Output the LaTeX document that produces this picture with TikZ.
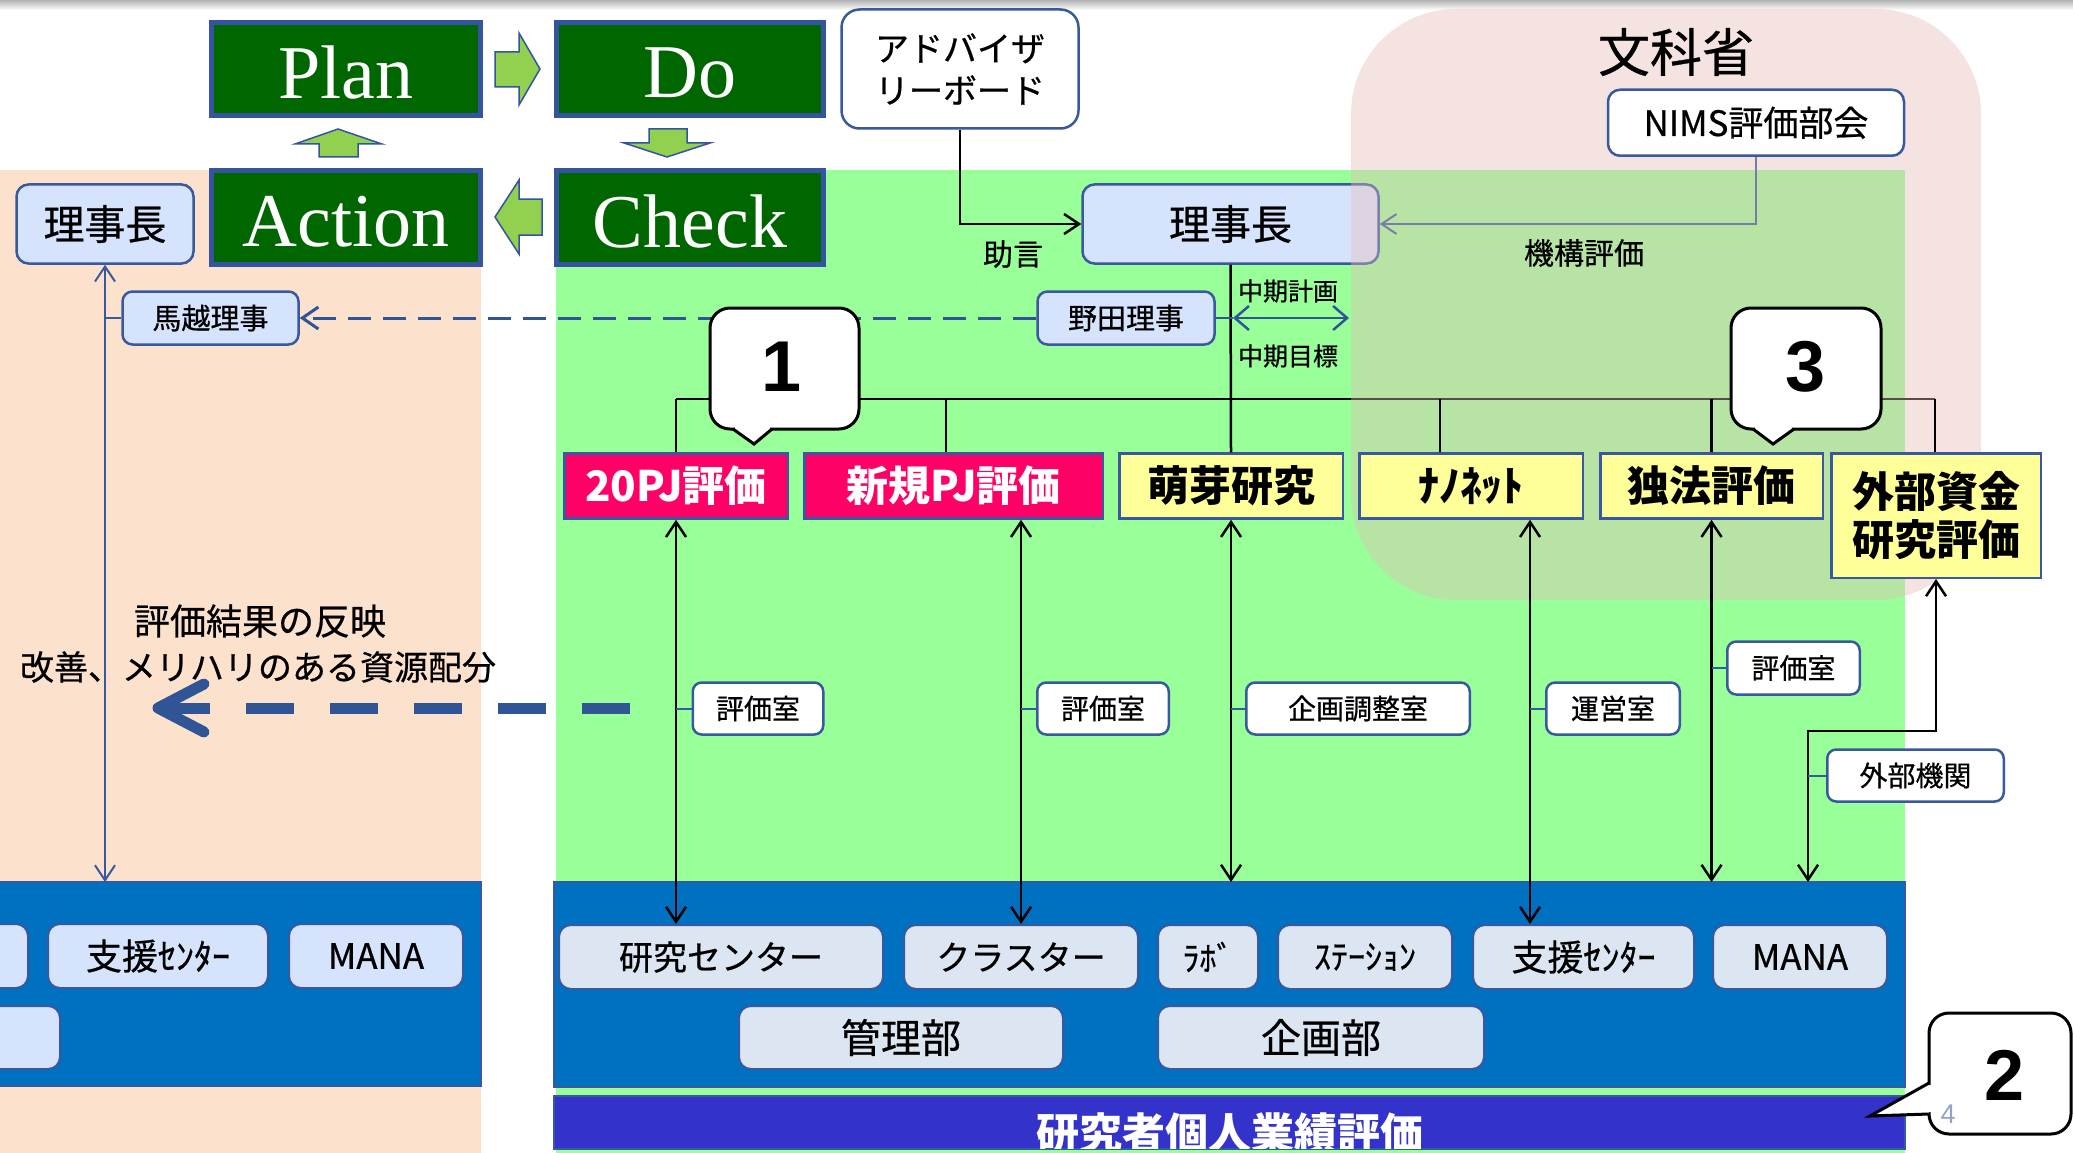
\documentclass[tikz,border=0pt]{standalone}
\usepackage{fontspec}
\setmainfont{Liberation Sans}
\newfontfamily\jp[FakeBold=0.6]{Noto Sans CJK JP}
\newfontfamily\jpb{Noto Sans CJK JP}
\newfontfamily\enserif{Liberation Serif}
\newfontfamily\ensans{Liberation Sans}
\usetikzlibrary{arrows.meta}
\newcommand\fsz[2]{\fontsize{#1pt}{#2pt}\selectfont}
\definecolor{pdcagreen}{RGB}{0,102,0}
\definecolor{pdcaedge}{RGB}{52,84,160}
\definecolor{arrowgreen}{RGB}{146,208,80}
\definecolor{peach}{RGB}{252,225,204}
\definecolor{bggreen}{RGB}{153,255,153}
\definecolor{mext}{RGB}{230,185,184}
\definecolor{edgeblue}{RGB}{56,88,160}
\definecolor{lightblue}{RGB}{214,227,252}
\definecolor{bandbox}{RGB}{220,230,242}
\definecolor{bandblue}{RGB}{0,112,192}
\definecolor{purpleband}{RGB}{51,51,204}
\definecolor{magentabox}{RGB}{255,0,102}
\definecolor{yellowbox}{RGB}{255,255,153}
\definecolor{dashblue}{RGB}{47,85,151}
\definecolor{pagenum}{RGB}{150,160,200}
\tikzset{
  vb/.tip={Straight Barb[length=15pt,width=20pt]},
  pdca/.style={draw=pdcaedge, line width=5pt, fill=pdcagreen, text=white, inner sep=0pt,
    minimum width=269pt, minimum height=93pt, font=\enserif\fsz{76}{80}},
  pdcatext/.style={inner sep=0pt, text=white, font=\enserif\fsz{76}{80}},
  garrow/.style={fill=arrowgreen, draw=pdcaedge, line width=1.5pt, line join=miter},
  rbox/.style={draw=edgeblue, line width=2.5pt, fill=lightblue, rounded corners=12pt, inner sep=0pt,
    font=\jp\fsz{41}{48}},
  wbox/.style={draw=edgeblue, line width=2.5pt, fill=white, rounded corners=12pt, inner sep=0pt, align=center},
  lab/.style={draw=edgeblue, line width=2.5pt, fill=white, rounded corners=9pt, inner sep=0pt,
    minimum height=52pt, font=\jp\fsz{28}{32}},
  evbox/.style={draw=edgeblue, line width=2.5pt, inner sep=0pt, minimum height=65pt,
    font=\jpb\bfseries\fsz{42}{48}, align=center},
  ybox/.style={evbox, fill=yellowbox},
  mbox/.style={evbox, fill=magentabox, text=white},
  bbox/.style={draw=edgeblue, line width=2pt, fill=bandbox, rounded corners=12pt, inner sep=0pt,
    minimum height=64pt, font=\jp\fsz{34}{40}},
  lbbox/.style={bbox, fill=lightblue},
  conn/.style={line width=2.5pt, draw=black},
  bconn/.style={line width=2pt, draw=edgeblue},
  callbox/.style={draw=black, line width=3pt, fill=white, rounded corners=20pt},
  lbl/.style={inner sep=0pt, font=\jp\fsz{30}{34}},
  bignum/.style={inner sep=0pt, font=\ensans\bfseries\fsz{72}{72}},
}
\begin{document}
\begin{tikzpicture}[x=1pt,y=-1pt]
\useasboundingbox (0,0) rectangle (2073,1153);
\fill[white] (0,0) rectangle (2073,1153);
\shade[top color=black!30, bottom color=white] (0,0) rectangle (2073,10);

% backgrounds
\fill[peach] (0,170) rectangle (481,1153);
\fill[bggreen] (556,170) rectangle (1905,1153);

% bands
\coordinate (bandtop) at (0,882);
\draw[fill=bandblue, draw=edgeblue, line width=1.5pt] (-5,882) rectangle (481,1086);
\draw[fill=bandblue, draw=edgeblue, line width=1.5pt] (554,882) rectangle (1905,1087);
\draw[fill=purpleband, draw=edgeblue, line width=1.5pt] (554,1096) rectangle (1905,1149);
\begin{scope}
\clip (555,1097) rectangle (1904,1148);
\node[inner sep=0pt, text=white, font=\jpb\bfseries\fsz{43}{50}] (kojin) at (1230,1133) {研究者個人業績評価};
\end{scope}

% band boxes left
\node[lbbox, minimum width=200pt] (partL) at (-72,956) {};
\node[lbbox, minimum width=220pt, font=\jp\fsz{36}{40}] (shienL) at (158,956) {支援ｾﾝﾀｰ};
\node[lbbox, minimum width=174pt, font=\jp\fsz{35}{40}] (manaL) at (376,956) {MANA};
\node[lbbox, minimum width=220pt, minimum height=63pt] (partL2) at (-50,1037.5) {};

% band boxes right
\node[bbox, minimum width=324pt] (ken) at (721,957) {研究センター};
\node[bbox, minimum width=234pt] (clu) at (1021,957) {クラスター};
\node[bbox, minimum width=100pt] (labo) at (1208,957) {ﾗﾎﾞ};
\node[bbox, minimum width=174pt] (sta) at (1365,957) {ｽﾃｰｼｮﾝ};
\node[bbox, minimum width=221pt, font=\jp\fsz{36}{40}] (shienR) at (1583.5,957) {支援ｾﾝﾀｰ};
\node[bbox, minimum width=174pt, font=\jp\fsz{35}{40}] (manaR) at (1800,957) {MANA};
\node[bbox, minimum width=324pt, minimum height=63pt, font=\jp\fsz{40}{44}] (kanri) at (901,1037.5) {管理部};
\node[bbox, minimum width=326pt, minimum height=63pt, font=\jp\fsz{40}{44}] (kikaku) at (1321,1037.5) {企画部};

% PDCA
\node[pdca] (plan) at (346,69) {};
\node[pdca, minimum width=267pt] (do) at (690,69) {};
\node[pdca] (action) at (346,217.5) {};
\node[pdca, minimum width=267pt] (check) at (690,217.5) {};
\node[pdcatext] at ([yshift=-4pt]plan.center) {Plan};
\node[pdcatext] at ([yshift=-4pt]do.center) {Do};
\node[pdcatext] at ([yshift=-4pt]action.center) {Action};
\node[pdcatext] at ([yshift=-4pt]check.center) {Check};
\draw[garrow] (495,52) -- (519,52) -- (519,33) -- (540,69) -- (519,105) -- (519,87) -- (495,87) -- cycle;
\draw[garrow] (649,129) -- (687,129) -- (687,143) -- (710,143) -- (667,157) -- (624,143) -- (649,143) -- cycle;
\draw[garrow] (542,199) -- (519,199) -- (519,180) -- (495,217) -- (519,254) -- (519,235) -- (542,235) -- cycle;
\draw[garrow] (319,157) -- (319,144) -- (295,144) -- (338,129) -- (382,144) -- (358,144) -- (358,157) -- cycle;

% advisory board and chairmen
\node[wbox, minimum width=237pt, minimum height=119pt, rounded corners=18pt, font=\jp\fsz{34}{42}] (adv) at (960,69) {アドバイザ\\リーボード};
\node[rbox, minimum width=296pt, minimum height=79pt] (rj) at (1230.5,224) {理事長};
\node[rbox, minimum width=177pt, minimum height=79pt] (rjL) at (105,224) {理事長};
\coordinate (nimsS) at (1756,157);
\draw[conn, -vb] (adv.south) |- (rj.west);
\draw[bconn, color=dashblue, -vb] (nimsS) |- (rj.east);

% tree bus
\coordinate (busL) at (676,399);
\coordinate (busR) at (1935,399);
\draw[conn] (busL) -- (busR);

% MEXT region
\fill[mext, opacity=0.4, rounded corners=105pt] (1351,9) rectangle (1981,600);
\node[inner sep=0pt, font=\jp\fsz{52}{56}] (mext) at (1676,52) {文科省};
\node[wbox, minimum width=296pt, minimum height=66pt, font=\jp\fsz{35}{40}, anchor=south] (nims) at (nimsS) {NIMS評価部会};
\node[lbl] (kikou) at (1584,253) {機構評価};
\node[lbl] (jogen) at (1013,254) {助言};
\node[lbl, font=\jp\fsz{25}{28}] (keikaku) at (1288,291) {中期計画};
\node[lbl, font=\jp\fsz{25}{28}] (mokuhyo) at (1288,356) {中期目標};

% evaluation boxes
\node[mbox, minimum width=223.5pt] (pj20) at (676,486) {20PJ評価};
\node[mbox, minimum width=298.5pt] (newpj) at (953.5,486) {新規PJ評価};
\node[ybox, minimum width=223.5pt] (houga) at (1231,486) {萌芽研究};
\node[ybox, minimum width=223.5pt] (nano) at (1471,486) {ﾅﾉﾈｯﾄ};
\node[ybox, minimum width=222.5pt] (dokuho) at (1711.5,486) {独法評価};
\node[ybox, minimum width=209.5pt, minimum height=124.5pt] (gaibu) at (1936,515.5) {外部資金\\研究評価};

% drops from bus
\draw[conn] (pj20.north |- busL) -- (pj20.north);
\coordinate (x2) at (946,0);
\draw[conn] (x2 |- busL) -- (x2 |- newpj.north);
\draw[conn] (rj.south) -- (houga.north);
\coordinate (x4) at (1440,0);
\draw[conn] (x4 |- busL) -- (x4 |- nano.north);
\draw[conn] (dokuho.north |- busL) -- (dokuho.north);
\draw[conn] (busR) -- (busR |- gaibu.north);

% vertical connectors
\coordinate (x5) at (1530,0);
\coordinate (g2) at (1808,731);
\draw[conn, vb-vb] (pj20.south) -- (pj20.south |- ken.north);
\draw[conn, vb-vb] (newpj.south -| clu.north) -- (clu.north);
\draw[conn, vb-vb] (houga.south) -- (houga.south |- bandtop);
\draw[conn, vb-vb] (x5 |- nano.south) -- (x5 |- shienR.north);
\draw[conn, vb-vb] (dokuho.south) -- (dokuho.south |- bandtop);
\draw[conn, vb-vb] (gaibu.south) |- (g2) -- (g2 |- bandtop);

% office labels
\node[lab, minimum width=130.5pt] (l1) at (758,708.5) {評価室};
\node[lab, minimum width=131.5pt] (l2) at (1103,708.5) {評価室};
\node[lab, minimum width=223.5pt] (l3) at (1358,708.5) {企画調整室};
\node[lab, minimum width=133.5pt] (l4) at (1613,708.5) {運営室};
\node[lab, minimum width=132.5pt, minimum height=53pt] (l5) at (1793.5,668) {評価室};
\node[lab, minimum width=176.5pt] (l6) at (1915.5,775.5) {外部機関};
\draw[bconn] (l1.west) -- (l1.west -| pj20.south);
\draw[bconn] (l2.west) -- (l2.west -| clu.north);
\draw[bconn] (l3.west) -- (l3.west -| houga.south);
\draw[bconn] (l4.west) -- (l4.west -| x5);
\draw[bconn] (l5.west) -- (l5.west -| dokuho.south);
\draw[bconn] (l6.west) -- (l6.west -| g2);

% directors
\node[rbox, minimum width=177pt, minimum height=53pt, rounded corners=10pt, font=\jp\fsz{29}{34}] (noda) at (1126,318) {野田理事};
\node[rbox, minimum width=176pt, minimum height=53pt, rounded corners=10pt, font=\jp\fsz{29}{34}] (uma) at (210.5,318) {馬越理事};
\draw[dashblue, line width=3pt, dash pattern=on 23pt off 12pt, -{Straight Barb[length=16pt,width=22pt]}] (noda.west) -- (uma.east);
\coordinate (mid1) at (1233,318);
\coordinate (mid2) at (1349,318);
\draw[dashblue, line width=2.5pt] (noda.east) -- (mid1);
\draw[dashblue, line width=2.5pt, {Straight Barb[length=14pt,width=24pt]}-{Straight Barb[length=14pt,width=24pt]}] (mid1) -- (mid2);
\draw[bconn, vb-vb] (rjL.south) -- (rjL.south |- bandtop);
\draw[bconn] (uma.west) -- (uma.west -| rjL.south);

% feedback arrow
\coordinate (fbS) at (630,708);
\coordinate (fbM) at (210,708);
\coordinate (fbT) at (158,708);
\draw[dashblue, line width=11pt, dash pattern=on 48pt off 36pt] (fbS) -- (fbM);
\draw[dashblue, line width=11pt] (fbM) -- (fbT);
\draw[dashblue, line width=11pt, line cap=round, line join=round] (204,684) -- (fbT) -- (204,732);
\node[inner sep=0pt, font=\jp\fsz{36}{40}] (t1) at (260,621) {評価結果の反映};
\node[inner sep=0pt, font=\jp\fsz{34}{40}] (t2) at (258,667) {改善、メリハリのある資源配分};

% callouts
\draw[callbox] (710,308) rectangle (859,429);
\fill[white] (733,429) -- (754,444) -- (772,429) -- cycle;
\fill[white] (735,426) rectangle (770,431);
\draw[line width=3pt] (733,429) -- (754,444) -- (772,429);
\node[bignum] (n1) at (782,367) {1};

\draw[callbox] (1731,308) rectangle (1881,429);
\fill[white] (1753,429) -- (1773,444) -- (1794,429) -- cycle;
\fill[white] (1755,426) rectangle (1792,431);
\draw[line width=3pt] (1753,429) -- (1773,444) -- (1794,429);
\node[bignum] (n3) at (1806,367) {3};

\draw[callbox] (1929,1013) rectangle (2071,1134);
\fill[white] (1929,1083) -- (1870,1116) -- (1929,1114) -- cycle;
\fill[white] (1926,1085) rectangle (1932,1112);
\draw[line width=3pt] (1929,1083) -- (1870,1116) -- (1929,1114);
\node[bignum] (n2) at (2005,1075) {2};
\node[inner sep=0pt, text=pagenum, font=\ensans\fsz{27}{30}] (pnum) at (1948,1114) {4};
\end{tikzpicture}
\end{document}
